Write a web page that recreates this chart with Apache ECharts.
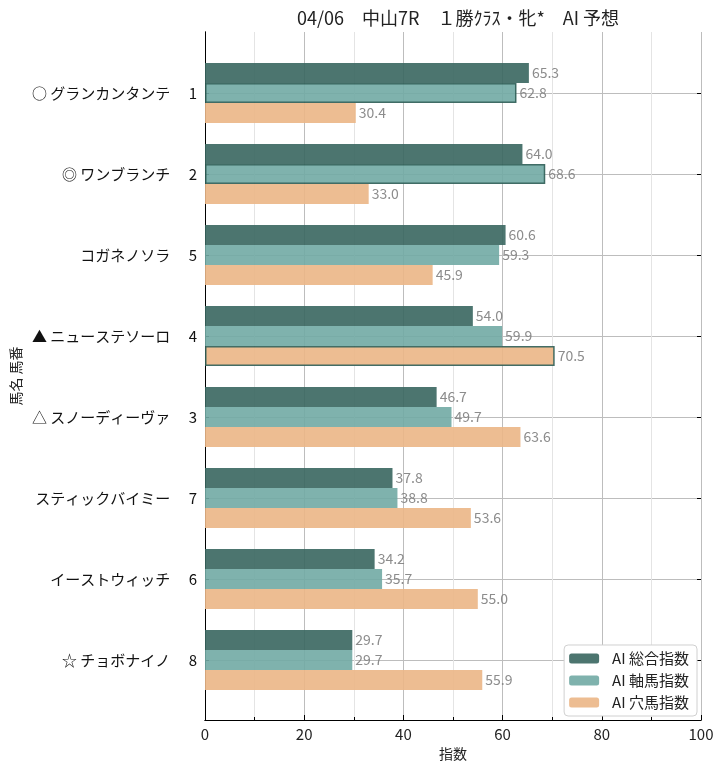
<!DOCTYPE html>
<html>
<head>
<meta charset="utf-8">
<script src="https://cdn.jsdelivr.net/npm/echarts@6/dist/echarts.min.js"></script>
<style>html,body{margin:0;padding:0;background:#fff}#c{width:725px;height:770px}</style>
</head>
<body>
<div id="c"></div>
<script>
const marks   = ['○', '◎', '', '▲', '△', '', '', '☆'];
const names   = ['グランカンタンテ', 'ワンブランチ', 'コガネノソラ', 'ニューステソーロ', 'スノーディーヴァ', 'スティックバイミー', 'イーストウィッチ', 'チョボナイノ'];
const numbers = ['1', '2', '5', '4', '3', '7', '6', '8'];
const seriesNames = ['AI 総合指数', 'AI 軸馬指数', 'AI 穴馬指数'];
const sogo = [65.3, 64.0, 60.6, 54.0, 46.7, 37.8, 34.2, 29.7];
const jiku = [62.8, 68.6, 59.3, 59.9, 49.7, 38.8, 35.7, 29.7];
const ana  = [30.4, 33.0, 45.9, 70.5, 63.6, 53.6, 55.0, 55.9];
// [series index, horse index] of outlined bars
const outlined = [[1, 0], [1, 1], [2, 3]];
const xTicks = [0, 20, 40, 60, 80, 100];

const colors = ['#38665F', '#71AAA4', '#EBB686'];
const font = '"Noto Sans CJK JP", "Noto Sans", sans-serif';
const categories = names.map((n, i) => (marks[i] ? marks[i] + ' ' : '') + n + '　 ' + numbers[i]);
const values = [sogo, jiku, ana];

const chart = echarts.init(document.getElementById('c'), null, {renderer: 'canvas'});
const series = values.map((arr, si) => ({
  type: 'bar',
  name: seriesNames[si],
  xAxisIndex: 2,
  yAxisIndex: 0,
  barWidth: 20,
  barGap: '0%',
  itemStyle: {color: colors[si], opacity: 0.9},
  label: {show: true, position: 'right', distance: 3, color: '#808080', fontSize: 14, fontFamily: font,
          formatter: p => p.value.toFixed(1)},
  data: arr.map((v, hi) => {
    const o = outlined.some(([s, h]) => s === si && h === hi);
    return o ? {value: v, itemStyle: {borderColor: '#2f5e56', borderWidth: 1.5}} : v;
  })
}));

chart.setOption({
  animation: false,
  textStyle: {fontFamily: font},
  title: {text: '04/06　中山7R　１勝ｸﾗｽ・牝*　AI 予想', left: 453, top: 4, textAlign: 'center',
          textStyle: {fontSize: 18, fontWeight: 'normal', color: '#222', fontFamily: font}},
  legend: {
    data: seriesNames, orient: 'vertical', right: 28, bottom: 54,
    itemWidth: 30, itemHeight: 10, itemGap: 7,
    backgroundColor: '#fff', borderColor: '#d0d0d0', borderWidth: 1, borderRadius: 4,
    padding: [6, 8, 6, 5],
    textStyle: {fontSize: 15, color: '#222', fontFamily: font, padding: [0, 0, 0, 8]},
    itemStyle: {borderWidth: 0}
  },
  grid: [
    {left: 205, right: 24, top: 32, bottom: 50},
    {left: 205, right: 24, top: 52.5, bottom: 69.5}
  ],
  xAxis: [
    {type: 'value', gridIndex: 0, position: 'bottom', min: xTicks[0], max: xTicks[xTicks.length - 1], interval: 20,
     name: '指数', nameLocation: 'middle', nameGap: 27,
     nameTextStyle: {fontSize: 14, color: '#222', fontFamily: font},
     axisLine: {show: true, lineStyle: {color: '#000', width: 1}},
     axisTick: {show: true, inside: true, length: 5, lineStyle: {color: '#000'}},
     minorTick: {show: true, splitNumber: 2, length: 3, lineStyle: {color: '#000'}},
     axisLabel: {fontSize: 15, color: '#222', margin: 7, fontFamily: font},
     splitLine: {show: true, lineStyle: {color: '#bdbdbd', width: 1}},
     minorSplitLine: {show: true, lineStyle: {color: '#e4e4e4', width: 1}}},
    {type: 'value', gridIndex: 0, position: 'top', min: 0, max: 100,
     axisLine: {show: true, lineStyle: {color: '#000', width: 1}},
     axisTick: {show: false}, axisLabel: {show: false}, splitLine: {show: false}},
    {type: 'value', gridIndex: 1, min: 0, max: 100, show: false}
  ],
  yAxis: [
    {type: 'category', gridIndex: 1, data: categories, inverse: true, position: 'left',
     axisLine: {show: false},
     axisTick: {show: true, inside: true, alignWithLabel: true, length: 4, lineStyle: {color: '#000'}},
     axisLabel: {fontSize: 15, color: '#111', margin: 8, fontFamily: font},
     splitLine: {show: true, alignWithLabel: true, lineStyle: {color: '#bdbdbd', width: 1}}},
    {type: 'category', gridIndex: 1, data: categories, inverse: true, position: 'right',
     axisLine: {show: false},
     axisTick: {show: true, inside: true, alignWithLabel: true, length: 4, lineStyle: {color: '#000'}},
     axisLabel: {show: false}, splitLine: {show: false}},
    {type: 'value', gridIndex: 0, position: 'left', min: 0, max: 1,
     name: '馬名 馬番', nameLocation: 'middle', nameRotate: 90, nameGap: 182,
     nameTextStyle: {fontSize: 14, color: '#222', fontFamily: font},
     axisLine: {show: true, lineStyle: {color: '#000', width: 1}},
     axisTick: {show: false}, axisLabel: {show: false}, splitLine: {show: false}},
    {type: 'value', gridIndex: 0, position: 'right', min: 0, max: 1,
     axisLine: {show: true, lineStyle: {color: '#000', width: 1}},
     axisTick: {show: false}, axisLabel: {show: false}, splitLine: {show: false}}
  ],
  series: series
});
</script>
</body>
</html>
